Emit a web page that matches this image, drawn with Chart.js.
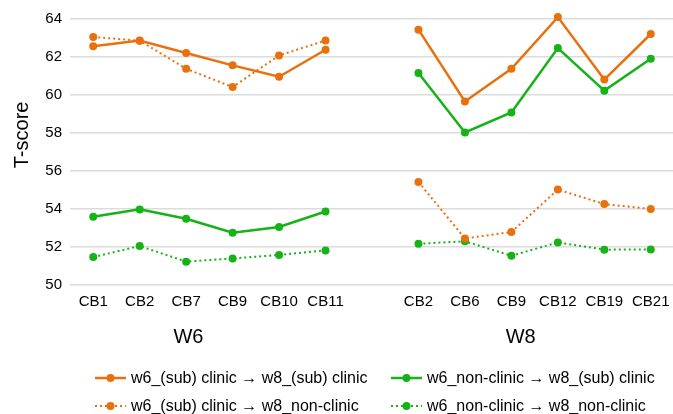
<!DOCTYPE html>
<html>
<head>
<meta charset="utf-8">
<script src="https://cdn.jsdelivr.net/npm/chart.js@4/dist/chart.umd.min.js"></script>
<style>
  html, body { margin: 0; padding: 0; background: #fff; overflow: hidden; }
  #wrap { position: relative; width: 678px; height: 414px; }
</style>
</head>
<body>
<div id="wrap"><canvas id="c"></canvas></div>
<script>
// Categories: W6 block, a spacer, then W8 block
const categories = ['CB1', 'CB2', 'CB7', 'CB9', 'CB10', 'CB11', '', 'CB2', 'CB6', 'CB9', 'CB12', 'CB19', 'CB21'];
const groupLabels = ['W6', 'W8'];
const yTicks = [50, 52, 54, 56, 58, 60, 62, 64];

const clinicToClinic =       [62.56, 62.87, 62.21, 61.56, 60.96, 62.38, null, 63.44, 59.66, 61.38, 64.10, 60.81, 63.21];
const nonClinicToClinic =    [53.59, 53.98, 53.49, 52.75, 53.05, 53.87, null, 61.16, 58.03, 59.08, 62.47, 60.23, 61.91];
const clinicToNonClinic =    [63.05, 62.86, 61.38, 60.42, 62.08, 62.87, null, 55.42, 52.45, 52.79, 55.02, 54.26, 54.00];
const nonClinicToNonClinic = [51.47, 52.05, 51.23, 51.40, 51.58, 51.82, null, 52.17, 52.30, 51.54, 52.24, 51.86, 51.87];

const seriesNames = [
  'w6_(sub) clinic \u2192 w8_(sub) clinic',
  'w6_non-clinic \u2192 w8_(sub) clinic',
  'w6_(sub) clinic \u2192 w8_non-clinic',
  'w6_non-clinic \u2192 w8_non-clinic'
];

const ORANGE = '#E8710E';
const GREEN = '#17B217';
const FONT = '"Liberation Sans", Arial, sans-serif';

function series(label, data, color, dotted) {
  return {
    label, data,
    borderColor: color,
    backgroundColor: color,
    borderWidth: dotted ? 2 : 2.5,
    borderDash: dotted ? [2, 3] : [],
    pointRadius: 4,
    pointHoverRadius: 4,
    pointBorderWidth: 0,
    tension: 0,
    spanGaps: false,
    clip: false
  };
}

// Draws the y title, the W6/W8 group names and the two-column legend
const annotations = {
  id: 'annotations',
  afterDraw(chart) {
    const ctx = chart.ctx;
    const x = chart.scales.x;
    const y = chart.scales.y;
    ctx.save();
    ctx.fillStyle = '#000';

    // y-axis title
    ctx.save();
    ctx.translate(22, y.getPixelForValue(57.9));
    ctx.rotate(-Math.PI / 2);
    ctx.font = '20px ' + FONT;
    ctx.textAlign = 'center';
    ctx.textBaseline = 'middle';
    ctx.fillText('T-score', 0, 0);
    ctx.restore();

    // group names under each block of categories
    const lerp = (i) => {
      const a = x.getPixelForValue(Math.floor(i));
      const b = x.getPixelForValue(Math.floor(i) + 1);
      return a + (b - a) * (i - Math.floor(i));
    };
    ctx.font = '20px ' + FONT;
    ctx.textAlign = 'center';
    ctx.textBaseline = 'middle';
    ctx.fillText(groupLabels[0], lerp(2.05), 337);
    ctx.fillText(groupLabels[1], lerp(9.2), 337);

    // legend: two rows, two columns
    const cols = [95, 391];
    const rows = [378, 406];
    const order = [[0, 1], [2, 3]];
    ctx.font = '16px ' + FONT;
    ctx.textAlign = 'left';
    order.forEach((rowIdx, r) => {
      rowIdx.forEach((di, c) => {
        const ds = chart.data.datasets[di];
        const lx = cols[c], ly = rows[r];
        ctx.strokeStyle = ds.borderColor;
        ctx.lineWidth = ds.borderWidth;
        ctx.setLineDash(ds.borderDash);
        ctx.beginPath();
        ctx.moveTo(lx, ly);
        ctx.lineTo(lx + 31, ly);
        ctx.stroke();
        ctx.setLineDash([]);
        ctx.fillStyle = ds.borderColor;
        ctx.beginPath();
        ctx.arc(lx + 15.5, ly, 4, 0, Math.PI * 2);
        ctx.fill();
        ctx.fillStyle = '#000';
        ctx.fillText(ds.label, lx + 36, ly + 1);
      });
    });
    ctx.restore();
  }
};

new Chart(document.getElementById('c'), {
  type: 'line',
  data: {
    labels: categories,
    datasets: [
      series(seriesNames[0], clinicToClinic, ORANGE, false),
      series(seriesNames[1], nonClinicToClinic, GREEN, false),
      series(seriesNames[2], clinicToNonClinic, ORANGE, true),
      series(seriesNames[3], nonClinicToNonClinic, GREEN, true)
    ]
  },
  options: {
    responsive: true,
    maintainAspectRatio: false,
    animation: false,
    events: [],
    layout: { padding: { top: 19, right: 0, bottom: 0, left: 0 } },
    plugins: {
      legend: { display: false },
      tooltip: { enabled: false }
    },
    scales: {
      x: {
        type: 'category',
        offset: true,
        grid: { display: false, drawTicks: false },
        border: { display: false },
        ticks: {
          color: '#000',
          font: { family: FONT, size: 15 },
          padding: 8,
          maxRotation: 0,
          autoSkip: false
        },
        afterFit(s) { s.height = 129; }
      },
      y: {
        min: 50,
        max: 64,
        afterBuildTicks(s) { s.ticks = yTicks.map(v => ({ value: v })); },
        grid: { color: '#dcdcdc', lineWidth: 1.5, drawTicks: false },
        border: { display: false },
        ticks: {
          color: '#000',
          font: { family: FONT, size: 15 },
          padding: 8
        },
        afterFit(s) { s.width = 70; }
      }
    }
  },
  plugins: [annotations]
});
</script>
</body>
</html>
